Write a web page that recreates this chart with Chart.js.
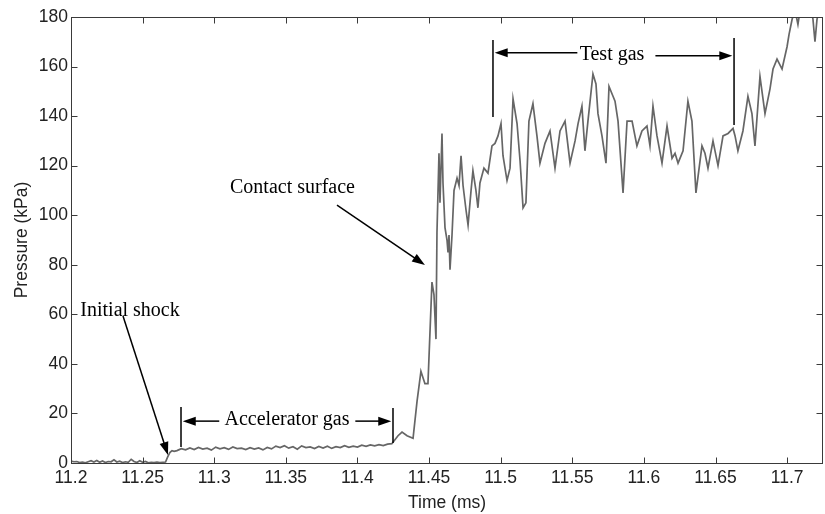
<!DOCTYPE html>
<html>
<head>
<meta charset="utf-8">
<script src="https://cdn.jsdelivr.net/npm/chart.js@4.4.1/dist/chart.umd.min.js"></script>
<style>
    html, body { margin: 0; padding: 0; background: #fff; }
</style>
</head>
<body>
<canvas id="canvas1" width="825" height="514"></canvas>
<script>
// before the shock arrives (ms, kPa)
var quietTime = [11.200, 11.202, 11.204, 11.206, 11.208, 11.210, 11.212, 11.214, 11.216, 11.218,
    11.220, 11.222, 11.224, 11.226, 11.228, 11.230, 11.232, 11.234, 11.236, 11.238,
    11.240, 11.242, 11.244, 11.246, 11.248, 11.250, 11.252, 11.254, 11.256, 11.258,
    11.260, 11.262, 11.264, 11.266];
var quietPressure = [0.8, 0.5, 0.6, 0.2, 0.4, 0.1, 0.5, 0.9, 0.4, 1.0,
    0.3, 0.8, 0.2, 0.6, 0.5, 1.3, 0.4, 0.7, 0.2, 0.5,
    0.3, 1.5, 0.6, 0.2, 0.9, 0.3, 0.6, 0.1, 0.3, 0.2,
    0.4, 0.2, 0.3, 0.4];

// shock + accelerator gas
var accelTime = [11.2675, 11.2690, 11.2705, 11.2720,
    11.274, 11.277, 11.280, 11.283, 11.286, 11.289, 11.292, 11.295, 11.298, 11.301,
    11.304, 11.307, 11.310, 11.313, 11.316, 11.319, 11.322, 11.325, 11.328, 11.331,
    11.334, 11.337, 11.340, 11.343, 11.346, 11.349, 11.352, 11.355, 11.358, 11.361,
    11.364, 11.367, 11.370, 11.373, 11.376, 11.379, 11.382, 11.385, 11.388, 11.391,
    11.394, 11.397, 11.400, 11.403, 11.406, 11.409, 11.412, 11.415, 11.418, 11.421, 11.424];
var accelPressure = [2.5, 4.2, 5.0, 4.7,
    5.0, 5.8, 5.3, 6.1, 5.4, 6.3, 5.6, 6.0, 5.2, 6.4,
    5.7, 6.2, 5.5, 6.5, 5.8, 6.0, 5.4, 6.2, 5.6, 6.1,
    5.3, 6.3, 5.7, 6.8, 6.2, 7.0, 6.0, 6.6, 5.6, 6.9,
    6.2, 6.5, 5.8, 6.7, 6.0, 6.8, 5.9, 6.6, 6.2, 7.0,
    6.3, 6.8, 6.4, 7.2, 6.7, 7.3, 6.9, 7.4, 7.0, 7.6, 7.8];

// contact surface and test gas
var testTime = [11.4283, 11.4311, 11.4346, 11.4388, 11.4416, 11.4443, 11.4471, 11.4492, 11.4520, 11.4534,
    11.4548, 11.4555, 11.4569, 11.4576, 11.4590, 11.4597, 11.4611, 11.4625, 11.4632, 11.4639,
    11.4646, 11.4660, 11.4674, 11.4695, 11.4709, 11.4723, 11.4737, 11.4758, 11.4772, 11.4793,
    11.4806, 11.4827, 11.4841, 11.4855, 11.4883, 11.4911, 11.4939, 11.4960, 11.4981, 11.5002,
    11.5016, 11.5044, 11.5065, 11.5086, 11.5114, 11.5135, 11.5156, 11.5176, 11.5197, 11.5225,
    11.5253, 11.5274, 11.5309, 11.5344, 11.5379, 11.5414, 11.5449, 11.5484, 11.5519, 11.5540,
    11.5567, 11.5588, 11.5609, 11.5644, 11.5665, 11.5679, 11.5707, 11.5735, 11.5756, 11.5784,
    11.5798, 11.5819, 11.5854, 11.5882, 11.5917, 11.5951, 11.5986, 11.6021, 11.6042, 11.6063,
    11.6091, 11.6126, 11.6161, 11.6196, 11.6217, 11.6238, 11.6273, 11.6307, 11.6335, 11.6363,
    11.6405, 11.6426, 11.6447, 11.6482, 11.6517, 11.6552, 11.6587, 11.6622, 11.6636, 11.6656,
    11.6691, 11.6726, 11.6754, 11.6775, 11.6810, 11.6845, 11.6880, 11.6901, 11.6929, 11.6964,
    11.6999, 11.7013, 11.7034, 11.7054, 11.7075, 11.7096, 11.7124, 11.7159, 11.7180, 11.7194,
    11.7208, 11.7229, 11.7250];
var testPressure = [11, 12.5, 11, 10, 25, 37, 32, 32, 73, 68,
    50, 93, 125, 105, 133, 113, 95, 90, 85, 92,
    78, 92, 110, 115, 112, 124, 112, 102, 96, 110,
    118, 110, 103, 113, 119, 117, 128, 129, 132, 137,
    124, 114, 119, 147, 137, 122, 103, 105, 138, 145,
    132, 121, 129, 134, 119, 134, 138, 121, 130, 137,
    144, 126, 138, 157, 153, 141, 132, 121, 152, 148,
    146, 138, 109, 138, 138, 128, 134, 136, 128, 144,
    132, 121, 136, 123, 125, 121, 126, 146, 138, 109,
    128, 125, 119, 130, 120, 132, 133, 135, 132, 126,
    134, 148, 141, 128, 156, 141, 151, 159, 163, 159,
    168, 173, 179, 183, 177, 185, 182, 186, 179, 170,
    179, 184, 183];

var xTickValues = [11.2, 11.25, 11.3, 11.35, 11.4, 11.45, 11.5, 11.55, 11.6, 11.65, 11.7];
var xMin = 11.2, xMax = 11.725;
var yMin = 0, yMax = 180, yStep = 20;

var points = [];
[[quietTime, quietPressure], [accelTime, accelPressure], [testTime, testPressure]].forEach(function(seg) {
    for (var i = 0; i < seg[0].length; i++) {
        points.push({x: seg[0][i], y: seg[1][i]});
    }
});

function arrowTo(ctx, x1, y1, x2, y2) {
    var ang = Math.atan2(y2 - y1, x2 - x1);
    var len = 13, w = 4.5;
    ctx.beginPath();
    ctx.moveTo(x1, y1);
    ctx.lineTo(x2 - Math.cos(ang) * len * 0.8, y2 - Math.sin(ang) * len * 0.8);
    ctx.stroke();
    ctx.beginPath();
    ctx.moveTo(x2, y2);
    ctx.lineTo(x2 - Math.cos(ang) * len - Math.sin(ang) * w, y2 - Math.sin(ang) * len + Math.cos(ang) * w);
    ctx.lineTo(x2 - Math.cos(ang) * len + Math.sin(ang) * w, y2 - Math.sin(ang) * len - Math.cos(ang) * w);
    ctx.closePath();
    ctx.fill();
}

var framePlugin = {
    id: 'frame',
    afterDatasetsDraw: function(chart) {
        var ctx = chart.ctx, a = chart.chartArea;
        var xs = chart.scales.x, ys = chart.scales.y;
        var L = Math.round(a.left) + 0.5, R = Math.round(a.right) - 0.5;
        var T = Math.round(a.top) + 0.5, B = Math.round(a.bottom) + 0.5;
        ctx.save();
        ctx.strokeStyle = '#3a3a3a';
        ctx.lineWidth = 1;
        ctx.strokeRect(L, T, R - L, B - T);
        ctx.beginPath();
        xs.ticks.forEach(function(t) {
            var px = Math.round(xs.getPixelForValue(t.value)) + 0.5;
            ctx.moveTo(px, B); ctx.lineTo(px, B - 6);
            ctx.moveTo(px, T); ctx.lineTo(px, T + 6);
        });
        ys.ticks.forEach(function(t) {
            var py = Math.round(ys.getPixelForValue(t.value)) + 0.5;
            ctx.moveTo(L, py); ctx.lineTo(L + 6, py);
            ctx.moveTo(R, py); ctx.lineTo(R - 6, py);
        });
        ctx.stroke();

        // annotations, placed in data units
        function X(v) { return xs.getPixelForValue(v); }
        function Y(v) { return ys.getPixelForValue(v); }
        ctx.strokeStyle = '#000';
        ctx.fillStyle = '#000';
        ctx.lineWidth = 1.5;
        ctx.font = '20px "Liberation Serif", "Times New Roman", serif';
        ctx.textBaseline = 'alphabetic';

        ctx.textAlign = 'center';
        ctx.fillText('Initial shock', X(11.2412), Y(59.5));
        arrowTo(ctx, X(11.2363), Y(59.3), X(11.2677), Y(3.2));

        ctx.textAlign = 'left';
        ctx.fillText('Contact surface', X(11.3110), Y(109));
        arrowTo(ctx, X(11.3857), Y(104.1), X(11.4471), Y(79.9));

        // accelerator gas span
        ctx.beginPath();
        ctx.moveTo(X(11.2768), Y(22.6)); ctx.lineTo(X(11.2768), Y(6.5));
        ctx.moveTo(X(11.4248), Y(22.2)); ctx.lineTo(X(11.4248), Y(8.1));
        ctx.stroke();
        ctx.textAlign = 'center';
        ctx.fillText('Accelerator gas', X(11.3508), Y(15.3));
        arrowTo(ctx, X(11.3035), Y(16.9), X(11.2780), Y(16.9));
        arrowTo(ctx, X(11.3985), Y(16.9), X(11.4236), Y(16.9));

        // test gas span
        ctx.beginPath();
        ctx.moveTo(X(11.4946), Y(170.7)); ctx.lineTo(X(11.4946), Y(139.6));
        ctx.moveTo(X(11.6629), Y(171.5)); ctx.lineTo(X(11.6629), Y(136.4));
        ctx.stroke();
        ctx.fillText('Test gas', X(11.5777), Y(162.5));
        arrowTo(ctx, X(11.5535), Y(165.6), X(11.4958), Y(165.6));
        arrowTo(ctx, X(11.6080), Y(164.4), X(11.6617), Y(164.4));
        ctx.restore();
    }
};

var sansFont = {family: '"Liberation Sans", Arial, sans-serif', size: 17.5};

var ctx = document.getElementById("canvas1").getContext("2d");
window.myLine = new Chart(ctx, {
    type: 'line',
    data: {
        datasets: [{
            label: 'Pressure',
            data: points,
            borderColor: '#666666',
            borderWidth: 1.7,
            pointRadius: 0,
            tension: 0,
            fill: false
        }]
    },
    options: {
        responsive: false,
        animation: false,
        layout: { padding: { top: 17, right: 2, left: 0, bottom: 0 } },
        plugins: {
            legend: { display: false },
            tooltip: { enabled: false }
        },
        scales: {
            x: {
                type: 'linear',
                min: xMin,
                max: xMax,
                grid: { display: false, drawTicks: false },
                border: { display: false },
                ticks: {
                    padding: 5,
                    color: '#222',
                    font: sansFont,
                    maxRotation: 0,
                    autoSkip: false,
                    callback: function(v) { return parseFloat(v.toFixed(3)).toString(); }
                },
                afterBuildTicks: function(scale) {
                    scale.ticks = xTickValues.map(function(v) { return {value: v}; });
                },
                afterFit: function(scale) { scale.height = 51; },
                title: { display: true, text: 'Time (ms)', color: '#222', font: sansFont, padding: { top: 0, bottom: 0 } }
            },
            y: {
                min: yMin,
                max: yMax,
                grid: { display: false, drawTicks: false },
                border: { display: false },
                ticks: { stepSize: yStep, padding: 3, color: '#222', font: sansFont },
                afterFit: function(scale) { scale.width = 71; },
                title: { display: true, text: 'Pressure (kPa)', color: '#222', font: sansFont, padding: { top: 12, bottom: 0 } }
            }
        }
    },
    plugins: [framePlugin]
});
</script>
</body>
</html>
